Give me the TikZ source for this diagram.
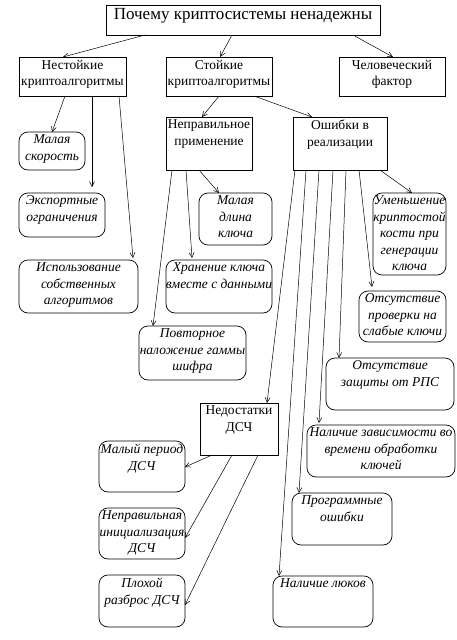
\documentclass[tikz,border=0pt]{standalone}
\usepackage{fontspec}
\setmainfont{Liberation Serif}
\usetikzlibrary{arrows.meta}
% text of a box: width, total height, lines (wide lines stick out on both sides)
\newcommand{\cell}[3]{\parbox[t][\dimexpr#2pt-6pt\relax][t]{#1pt}{\centering
    \leftskip=0pt plus 1fil minus 200pt\rightskip=0pt plus 1fil minus 200pt #3}}

\begin{document}
\begin{tikzpicture}[x=1pt,y=-1pt,
    sqbox/.style={draw, anchor=north west, inner xsep=0pt, inner ysep=3pt, outer sep=0pt,
        line width=0.7pt, font=\fontsize{13.5}{16.5}\selectfont},
    rbox/.style={sqbox, rounded corners=9pt, font=\fontsize{13.5}{16.5}\selectfont\itshape},
    arr/.style={-{Straight Barb[length=5pt,width=5pt]}, line width=0.5pt}]
    \useasboundingbox (0,0) rectangle (457,640);

    % top levels
    \node[sqbox, font=\fontsize{17}{20}\selectfont] (title) at (106,5) {\cell{274}{30}{Почему криптосистемы ненадежны}};
    \node[sqbox] (nest) at (19,57) {\cell{107}{39}{Нестойкие\\криптоалгоритмы}};
    \node[sqbox] (stoik) at (166,57) {\cell{106}{39}{Стойкие\\криптоалгоритмы}};
    \node[sqbox] (human) at (339,57) {\cell{106}{39}{Человеческий\\фактор}};
    \node[sqbox] (misuse) at (166,117) {\cell{86}{53}{Неправильное\\применение}};
    \node[sqbox] (errors) at (293,117) {\cell{94}{53}{Ошибки в\\реализации}};
    \node[sqbox] (rng) at (200,403) {\cell{78}{52}{Недостатки\\ДСЧ}};

    % leaves
    \node[rbox] (slow) at (19,132) {\cell{66}{38}{Малая\\скорость}};
    \node[rbox] (export) at (19,193) {\cell{86}{44}{Экспортные\\ограничения}};
    \node[rbox] (own) at (19,260) {\cell{119}{53}{Использование\\собственных\\алгоритмов}};
    \node[rbox] (shortkey) at (199,193) {\cell{73}{52}{Малая\\длина\\ключа}};
    \node[rbox] (store) at (166,260) {\cell{106}{53}{Хранение ключа\\вместе с данными}};
    \node[rbox] (gamma) at (139,326) {\cell{107}{54}{Повторное\\наложение гаммы\\шифра}};
    \node[rbox] (reduce) at (373,193) {\cell{73}{82}{Уменьшение\\криптостой\\кости при\\генерации\\ключа}};
    \node[rbox] (weak) at (359,291) {\cell{87}{51}{Отсутствие\\проверки на\\слабые ключи}};
    \node[rbox] (rps) at (326,358) {\cell{128}{52}{Отсутствие\\защиты от РПС}};
    \node[rbox] (timing) at (307,425) {\cell{148}{52}{Наличие зависимости во\\времени обработки\\ключей}};
    \node[rbox] (progerr) at (292,493) {\cell{100}{52}{Программные\\ошибки}};
    \node[rbox] (hatch) at (273,576) {\cell{100}{51}{Наличие люков}};
    \node[rbox] (period) at (99,441) {\cell{86}{51}{Малый период\\ДСЧ}};
    \node[rbox] (init) at (99,508) {\cell{86}{51}{Неправильная\\инициализация\\ДСЧ}};
    \node[rbox] (spread) at (99,575) {\cell{86}{52}{Плохой\\разброс ДСЧ}};

    % connectors
    \draw[arr] ([xshift=39pt]title.south west) -- ([xshift=44pt]nest.north west);
    \draw[arr] ([xshift=126pt]title.south west) -- ([xshift=54pt]stoik.north west);
    \draw[arr] ([xshift=247pt]title.south west) -- ([xshift=54pt]human.north west);

    \draw[arr] ([xshift=46pt]nest.south west) -- ([xshift=33pt]slow.north west);
    \draw[arr] ([xshift=73pt]nest.south west) -- ([xshift=73pt,yshift=6pt]export.north west);
    \draw[arr] ([xshift=100pt]nest.south west) -- ([xshift=114pt,yshift=2pt]own.north west);

    \draw[arr] ([xshift=53pt]stoik.south west) -- ([xshift=36pt]misuse.north west);
    \draw[arr] ([xshift=88pt]stoik.south west) -- ([xshift=19pt]errors.north west);

    \draw[arr] ([xshift=33pt]misuse.south west) -- ([xshift=20pt]shortkey.north west);
    \draw[arr] ([xshift=20pt]misuse.south west) -- ([xshift=26pt,yshift=2pt]store.north west);
    \draw[arr] ([xshift=6pt]misuse.south west) -- ([xshift=14pt]gamma.north west);

    \draw[arr] ([xshift=87pt]errors.south west) -- ([xshift=39pt]reduce.north west);
    \draw[arr] ([xshift=66pt]errors.south west) -- ([xshift=13pt,yshift=4pt]weak.north west);
    \draw[arr] ([xshift=53pt]errors.south west) -- ([xshift=13pt]rps.north west);
    \draw[arr] ([xshift=40pt]errors.south west) -- ([xshift=12pt,yshift=2pt]timing.north west);
    \draw[arr] ([xshift=26pt]errors.south west) -- ([xshift=7pt]progerr.north west);
    \draw[arr] ([xshift=13pt]errors.south west) -- ([xshift=6pt]hatch.north west);
    \draw[arr] ([xshift=2pt]errors.south west) -- ([xshift=67pt]rng.north west);

    \draw[arr] ([xshift=12pt]rng.south west) -- ([yshift=-26pt]period.north east);
    \draw[arr] ([xshift=32pt]rng.south west) -- ([yshift=-30pt]init.north east);
    \draw[arr] ([xshift=58pt]rng.south west) -- ([yshift=-30pt]spread.north east);
\end{tikzpicture}
\end{document}
